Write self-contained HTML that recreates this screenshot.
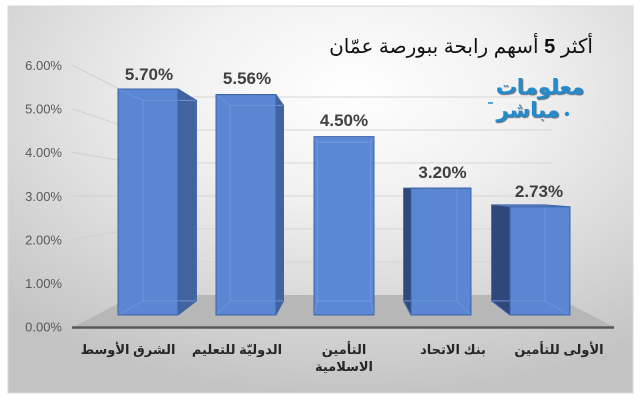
<!DOCTYPE html>
<html><head><meta charset="utf-8">
<style>
html,body{margin:0;padding:0;background:#fff;}
#wrap{position:relative;width:640px;height:400px;overflow:hidden;background:#fff;}
svg{position:absolute;left:0;top:0;}
.ar{position:absolute;font-family:"Liberation Sans","DejaVu Sans",sans-serif;direction:rtl;white-space:nowrap;}
.cat{font-weight:bold;font-size:13px;color:#262626;text-align:center;width:130px;line-height:17px;}
</style></head>
<body><div id="wrap">
<svg width="640" height="400" viewBox="0 0 640 400" xmlns="http://www.w3.org/2000/svg">
<defs>
<radialGradient id="bg" cx="0.55" cy="0.22" r="0.8" fx="0.55" fy="0.22">
<stop offset="0" stop-color="#ffffff"/>
<stop offset="0.35" stop-color="#f1f1f1"/>
<stop offset="0.75" stop-color="#d4d4d4"/>
<stop offset="1" stop-color="#c3c3c3"/>
</radialGradient>
</defs>
<rect x="8" y="6" width="625" height="387" fill="url(#bg)" stroke="#d9d9d9" stroke-width="1"/>

<g stroke="#d6d6d6" stroke-width="1">
<line x1="135" y1="97" x2="552" y2="97"/>
<line x1="135" y1="130" x2="552" y2="130"/>
<line x1="135" y1="163" x2="552" y2="163"/>
<line x1="135" y1="196" x2="552" y2="196"/>
<line x1="135" y1="229" x2="552" y2="229"/>
<line x1="135" y1="262" x2="552" y2="262"/>
</g>
<g stroke="#d0d0d0" stroke-width="1">
<line x1="72" y1="65" x2="135" y2="97"/>
<line x1="72" y1="108.7" x2="135" y2="130"/>
<line x1="72" y1="152.3" x2="135" y2="163"/>
<line x1="72" y1="196" x2="135" y2="196"/>
<line x1="72" y1="239.6" x2="135" y2="229"/>
<line x1="72" y1="283.3" x2="135" y2="262"/>
</g>

<polygon points="73,327 135,295 552,295 614,327" fill="#b7b7b7"/>
<line x1="72" y1="327.5" x2="614" y2="327.5" stroke="#595959" stroke-width="2.5"/>

<!-- Bar 1 -->
<polygon points="118,89 178,89 196.4,100.4 196.4,300.9 178,315 118,315" fill="#5a86d2"/>
<polygon points="178,89 196.4,100.4 196.4,300.9 178,315" fill="#42649e"/>
<g fill="none" stroke="#6d94da" stroke-width="1">
<rect x="143.1" y="100.4" width="53.3" height="200.5"/>
<line x1="118" y1="89" x2="143.1" y2="100.4"/>
<line x1="118" y1="315" x2="143.1" y2="300.9"/>
</g>
<polygon points="118,89 178,89 196.4,100.4 196.4,300.9 178,315 118,315" fill="none" stroke="#3d63a8" stroke-width="1"/>
<rect x="118" y="89" width="60" height="226" fill="none" stroke="#3d63a8" stroke-width="1"/>

<!-- Bar 2 -->
<polygon points="216,94.6 276,94.6 283.5,105.4 283.5,300.9 276,315 216,315" fill="#5a86d2"/>
<polygon points="276,94.6 283.5,105.4 283.5,300.9 276,315" fill="#42649e"/>
<g fill="none" stroke="#6d94da" stroke-width="1">
<rect x="230.2" y="105.4" width="53.3" height="195.5"/>
<line x1="216" y1="94.6" x2="230.2" y2="105.4"/>
<line x1="216" y1="315" x2="230.2" y2="300.9"/>
</g>
<polygon points="216,94.6 276,94.6 283.5,105.4 283.5,300.9 276,315 216,315" fill="none" stroke="#3d63a8" stroke-width="1"/>
<rect x="216" y="94.6" width="60" height="220.4" fill="none" stroke="#3d63a8" stroke-width="1"/>

<!-- Bar 3 -->
<rect x="314" y="136.6" width="60" height="178.4" fill="#5b88d4"/>
<g fill="none" stroke="#7199de" stroke-width="1">
<rect x="317.3" y="142.3" width="53.4" height="158.6"/>
<line x1="314" y1="136.6" x2="317.3" y2="142.3"/>
<line x1="374" y1="136.6" x2="370.7" y2="142.3"/>
<line x1="314" y1="315" x2="317.3" y2="300.9"/>
<line x1="374" y1="315" x2="370.7" y2="300.9"/>
</g>
<rect x="314" y="136.6" width="60" height="178.4" fill="none" stroke="#3d63a8" stroke-width="1"/>

<!-- Bar 4 -->
<polygon points="403.6,188.1 471,188.1 471,315 411,315 403.6,300.9" fill="#5a86d2"/>
<polygon points="403.6,188.1 411,188.1 411,315 403.6,300.9" fill="#30487a"/>
<g fill="none" stroke="#6d94da" stroke-width="1">
<line x1="456.9" y1="188.1" x2="456.9" y2="300.9"/>
<line x1="403.6" y1="300.9" x2="456.9" y2="300.9"/>
<line x1="456.9" y1="300.9" x2="471" y2="315"/>
</g>
<polygon points="403.6,188.1 471,188.1 471,315 411,315 403.6,300.9" fill="none" stroke="#3d63a8" stroke-width="1"/>
<rect x="411" y="188.1" width="60" height="126.9" fill="none" stroke="#3d63a8" stroke-width="1"/>

<!-- Bar 5 -->
<polygon points="491.6,204.9 544.9,204.9 570,206.8 570,315 510,315 491.6,300.9" fill="#5a86d2"/>
<polygon points="491.6,204.9 510,206.8 510,315 491.6,300.9" fill="#30477a"/>
<g fill="none" stroke="#6d94da" stroke-width="1">
<line x1="544.9" y1="204.9" x2="544.9" y2="300.9"/>
<line x1="491.6" y1="300.9" x2="544.9" y2="300.9"/>
<line x1="544.9" y1="300.9" x2="570" y2="315"/>
</g>
<polygon points="491.6,204.9 544.9,204.9 570,206.8 570,315 510,315 491.6,300.9" fill="none" stroke="#3d63a8" stroke-width="1"/>
<rect x="510" y="206.8" width="60" height="108.2" fill="none" stroke="#3d63a8" stroke-width="1"/>

<g font-family="Liberation Sans, sans-serif" font-size="13" fill="#595959" text-anchor="end">
<text x="62" y="70">6.00%</text>
<text x="62" y="113.6">5.00%</text>
<text x="62" y="157.2">4.00%</text>
<text x="62" y="200.8">3.00%</text>
<text x="62" y="244.4">2.00%</text>
<text x="62" y="288">1.00%</text>
<text x="62" y="331.6">0.00%</text>
</g>

<g font-family="Liberation Sans, sans-serif" font-size="17" font-weight="bold" fill="#404040" text-anchor="middle">
<text x="149" y="80">5.70%</text>
<text x="247" y="84">5.56%</text>
<text x="344" y="126">4.50%</text>
<text x="442.5" y="178">3.20%</text>
<text x="539" y="197">2.73%</text>
</g>

<!-- logo marks -->
<circle cx="567" cy="114" r="2.2" fill="#238bcc"/>
<line x1="488" y1="103" x2="493" y2="103" stroke="#238bcc" stroke-width="1.5"/>
</svg>

<div class="ar" style="right:47px;top:34px;font-size:20px;color:#111;line-height:26px;">أكثر <b>5</b> أسهم رابحة ببورصة عمّان</div>

<div class="ar" style="left:490px;top:76px;width:100px;text-align:center;font-size:21px;font-weight:bold;color:#238bcc;line-height:23px;text-shadow:1px 1px 1px #5a6a78;">معلومات</div>
<div class="ar" style="left:478px;top:99px;width:100px;text-align:center;font-size:21px;font-weight:bold;color:#238bcc;line-height:23px;text-shadow:1px 1px 1px #5a6a78;">مباشر</div>

<div class="ar cat" style="left:63px;top:341px;">الشرق الأوسط</div>
<div class="ar cat" style="left:172px;top:341px;">الدوليّة للتعليم</div>
<div class="ar cat" style="left:279px;top:341px;">التأمين<br>الاسلامية</div>
<div class="ar cat" style="left:388px;top:341px;">بنك الاتحاد</div>
<div class="ar cat" style="left:494px;top:341px;">الأولى للتأمين</div>
</div></body></html>
